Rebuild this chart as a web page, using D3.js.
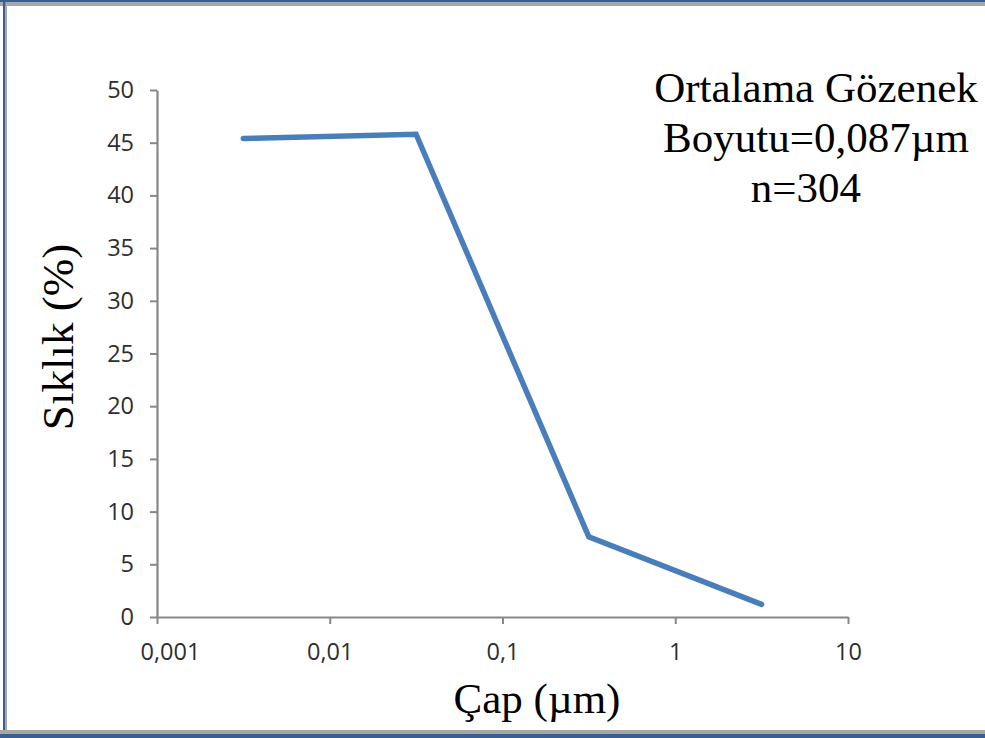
<!DOCTYPE html>
<html>
<head>
<meta charset="utf-8">
<script src="https://cdn.jsdelivr.net/npm/d3@7"></script>
<style>
  html, body { margin: 0; padding: 0; background: #ffffff; }
  svg { display: block; }
</style>
</head>
<body>
<svg id="chart" width="985" height="738"></svg>
<script>
// ---- data ----
const diameters = [0.00316, 0.0316, 0.316, 3.16];   // Çap (µm)
const frequencies = [45.4, 45.8, 7.6, 1.2];         // Sıklık (%)
const xTickValues = [0.001, 0.01, 0.1, 1, 10];
const xTickLabels = ["0,001", "0,01", "0,1", "1", "10"];
const yTickValues = [0, 5, 10, 15, 20, 25, 30, 35, 40, 45, 50];
const annotationLines = ["Ortalama Gözenek", "Boyutu=0,087\u00B5m", "n=304"];
const xTitle = "Çap (\u00B5m)";
const yTitle = "Sıklık (%)";

const svg = d3.select("#chart");
const W = 985, H = 738;

// frame
svg.append("rect").attr("x", 0).attr("y", 0).attr("width", W).attr("height", H).attr("fill", "#ffffff");
svg.append("rect").attr("x", 0).attr("y", 0).attr("width", W).attr("height", 2.5).attr("fill", "#3b5e92");
svg.append("rect").attr("x", 0).attr("y", 2.5).attr("width", W).attr("height", 3.5).attr("fill", "#a6a6a6");
svg.append("rect").attr("x", 3).attr("y", 0).attr("width", 2.5).attr("height", H).attr("fill", "#3b5e92");
svg.append("rect").attr("x", 5.5).attr("y", 2.5).attr("width", 1.5).attr("height", H - 8).attr("fill", "#a6a6a6");
svg.append("rect").attr("x", 0).attr("y", 730).attr("width", W).attr("height", 4).attr("fill", "#a6a6a6");
svg.append("rect").attr("x", 0).attr("y", 734).attr("width", W).attr("height", 4).attr("fill", "#3b5e92");

// scales
const x = d3.scaleLog().domain([0.001, 10]).range([157, 848]);
const y = d3.scaleLinear().domain([0, 50]).range([617, 90]);

const axisColor = "#878787";
const labelColor = "#2e2e2e";

// y axis
const yAxis = svg.append("g").attr("transform", "translate(157,0)")
  .call(d3.axisLeft(y).tickValues(yTickValues).tickSize(7).tickPadding(16).tickSizeOuter(0));
// x axis
const xAxis = svg.append("g").attr("transform", "translate(0,617)")
  .call(d3.axisBottom(x).tickValues(xTickValues).tickFormat((d, i) => xTickLabels[i])
        .tickSize(7).tickPadding(19).tickSizeOuter(0));

[yAxis, xAxis].forEach(g => {
  g.select(".domain").attr("stroke", axisColor).attr("stroke-width", 2.2);
  g.selectAll(".tick line").attr("stroke", axisColor).attr("stroke-width", 2);
  g.selectAll(".tick text").attr("fill", labelColor)
    .style("font-family", "'Open Sans', 'Liberation Sans', sans-serif").style("font-size", "23.5px");
});
// first x label sits slightly right of its tick in the reference
xAxis.selectAll(".tick text").filter((d, i) => i === 0).attr("dx", 13);

// line
const line = d3.line().x((d, i) => x(diameters[i])).y(d => y(d));
svg.append("path").datum(frequencies)
  .attr("d", line).attr("fill", "none")
  .attr("stroke", "#4a7ebb").attr("stroke-width", 5.5)
  .attr("stroke-linejoin", "miter").attr("stroke-linecap", "round");

// titles
const serif = "'Liberation Serif', 'Times New Roman', serif";
svg.append("text").attr("x", 537).attr("y", 713).attr("text-anchor", "middle")
  .style("font-family", serif).style("font-size", "43px").attr("fill", "#000").text(xTitle);
svg.append("text").attr("transform", "translate(73,337) rotate(-90)").attr("text-anchor", "middle")
  .style("font-family", serif).style("font-size", "45px").attr("fill", "#000").text(yTitle);

// annotation
svg.append("g").selectAll("text").data(annotationLines).join("text")
  .attr("x", (d, i) => i === 2 ? 806 : 816)
  .attr("y", (d, i) => 102 + i * 50)
  .attr("text-anchor", "middle")
  .style("font-family", serif).style("font-size", "43px").attr("fill", "#000")
  .text(d => d);
</script>
</body>
</html>
